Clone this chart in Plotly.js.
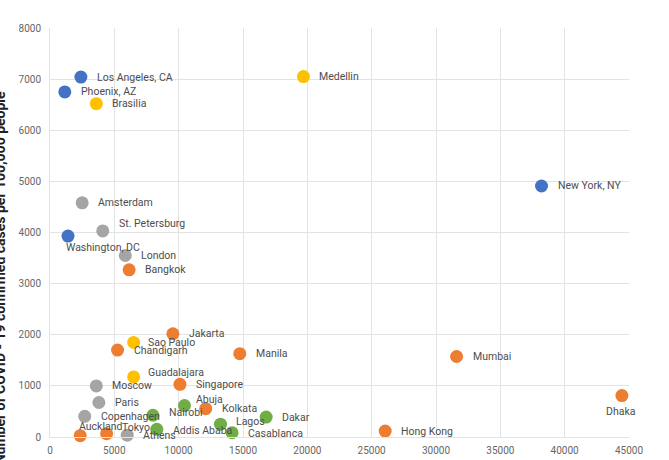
<!DOCTYPE html>
<html>
<head>
<meta charset="utf-8">
<script src="https://cdn.plot.ly/plotly-3.0.1.min.js"></script>
<style>
  html, body { margin: 0; padding: 0; background: #fff; }
  #chart { width: 669px; height: 460px; }
</style>
</head>
<body>
<div id="chart"></div>
<script>
// City, population density (x) and COVID-19 cases per 100,000 people (y), grouped by region
const cities = [
  'Los Angeles, CA', 'Phoenix, AZ', 'New York, NY', 'Washington, DC',
  'Medellin', 'Brasilia', 'Sao Paulo', 'Guadalajara',
  'Amsterdam', 'St. Petersburg', 'London', 'Moscow', 'Paris', 'Copenhagen', 'Athens',
  'Bangkok', 'Jakarta', 'Chandigarh', 'Manila', 'Mumbai', 'Singapore', 'Kolkata',
  'Auckland', 'Tokyo', 'Hong Kong', 'Dhaka',
  'Abuja', 'Nairobi', 'Lagos', 'Dakar', 'Addis Ababa', 'Casablanca'
];
const density = [
  2400, 1150, 38200, 1400,
  19700, 3600, 6500, 6500,
  2500, 4100, 5850, 3600, 3800, 2700, 6000,
  6150, 9550, 5250, 14750, 31600, 10100, 12100,
  2350, 4400, 26050, 44450,
  10450, 8000, 13250, 16800, 8300, 14150
];
const casesPer100k = [
  7040, 6750, 4910, 3930,
  7050, 6520, 1850, 1175,
  4580, 4030, 3550, 1000, 675, 405, 35,
  3270, 2020, 1700, 1630, 1575, 1030, 555,
  25, 65, 115, 810,
  615, 425, 250, 390, 150, 85
];
const region = [
  'US', 'US', 'US', 'US',
  'LatAm', 'LatAm', 'LatAm', 'LatAm',
  'Europe', 'Europe', 'Europe', 'Europe', 'Europe', 'Europe', 'Europe',
  'Asia', 'Asia', 'Asia', 'Asia', 'Asia', 'Asia', 'Asia',
  'Asia', 'Asia', 'Asia', 'Asia',
  'Africa', 'Africa', 'Africa', 'Africa', 'Africa', 'Africa'
];
const regionOrder = ['US', 'Asia', 'Europe', 'LatAm', 'Africa'];

const xTicks = [0, 5000, 10000, 15000, 20000, 25000, 30000, 35000, 40000, 45000];
const yTicks = [0, 1000, 2000, 3000, 4000, 5000, 6000, 7000, 8000];

const yTitle = 'Number of COVID - 19 confirmed cases per 100,000 people';

// Styling
const regionColor = {
  US: '#4472C4', Asia: '#ED7D31', Europe: '#A5A5A5', LatAm: '#FFC000', Africa: '#70AD47'
};
// Label nudges in pixels relative to each marker (default: right of the marker)
const labelNudge = {
  'Washington, DC': { xanchor: 'left', dx: -3, dy: -11 },
  'St. Petersburg': { dy: 7 },
  'Sao Paulo': { dx: 13 },
  'Guadalajara': { dx: 13, dy: 4 },
  'Abuja': { dx: 11, dy: 6 },
  'Nairobi': { dy: 3 },
  'Lagos': { dy: 3 },
  'Auckland': { xanchor: 'left', dx: -2, dy: 9 },
  'Tokyo': { dx: 14, dy: 6 },
  'Addis Ababa': { dy: -1 },
  'Casablanca': { dy: -1 },
  'Dhaka': { xanchor: 'center', dx: -1, dy: -16 }
};

const traces = regionOrder.map(r => {
  const idx = region.map((g, i) => g === r ? i : -1).filter(i => i >= 0);
  return {
    type: 'scatter',
    mode: 'markers',
    name: r,
    x: idx.map(i => density[i]),
    y: idx.map(i => casesPer100k[i]),
    text: idx.map(i => cities[i]),
    marker: { color: regionColor[r], size: 13, line: { width: 0 } },
    cliponaxis: false,
    hoverinfo: 'text+x+y'
  };
});

const annotations = cities.map((name, i) => {
  const n = labelNudge[name] || {};
  return {
    x: density[i], y: casesPer100k[i], xref: 'x', yref: 'y',
    text: name, showarrow: false,
    xanchor: n.xanchor || 'left', yanchor: 'middle',
    xshift: n.dx !== undefined ? n.dx : 15, yshift: n.dy || 0,
    borderpad: 0,
    font: { family: 'Roboto, Arial, sans-serif', size: 10.5, color: '#4d4d4d' }
  };
});

// Vertical axis title, running past the bottom edge of the page
annotations.push({
  xref: 'paper', yref: 'paper', x: -0.085, y: 0.39,
  xanchor: 'center', yanchor: 'middle', textangle: -90,
  text: '<b>' + yTitle + '</b>', showarrow: false,
  font: { family: 'Roboto, Arial, sans-serif', size: 14, color: '#222' }
});

const gridColor = '#e3e3e3';
const layout = {
  width: 669, height: 460,
  margin: { l: 50, r: 40, t: 28, b: 23 },
  paper_bgcolor: '#ffffff', plot_bgcolor: '#ffffff',
  showlegend: false,
  font: { family: 'Roboto, Arial, sans-serif', size: 10, color: '#666' },
  xaxis: {
    range: [0, 45000], tickvals: xTicks, ticktext: xTicks.map(String),
    showgrid: true, gridcolor: gridColor, gridwidth: 1,
    zeroline: false, showline: true, linecolor: gridColor, linewidth: 1, mirror: false,
    ticks: '', ticklabelstandoff: 4,
    tickfont: { family: 'Roboto, Arial, sans-serif', size: 10, color: '#666' },
    fixedrange: true
  },
  yaxis: {
    range: [0, 8000], tickvals: yTicks, ticktext: yTicks.map(String),
    showgrid: true, gridcolor: gridColor, gridwidth: 1,
    zeroline: false, showline: true, linecolor: gridColor, linewidth: 1,
    ticks: '', ticklabelstandoff: 6,
    tickfont: { family: 'Roboto, Arial, sans-serif', size: 10, color: '#666' },
    fixedrange: true
  },
  annotations: annotations
};

Plotly.newPlot('chart', traces, layout, { displayModeBar: false, staticPlot: true });
</script>
</body>
</html>
